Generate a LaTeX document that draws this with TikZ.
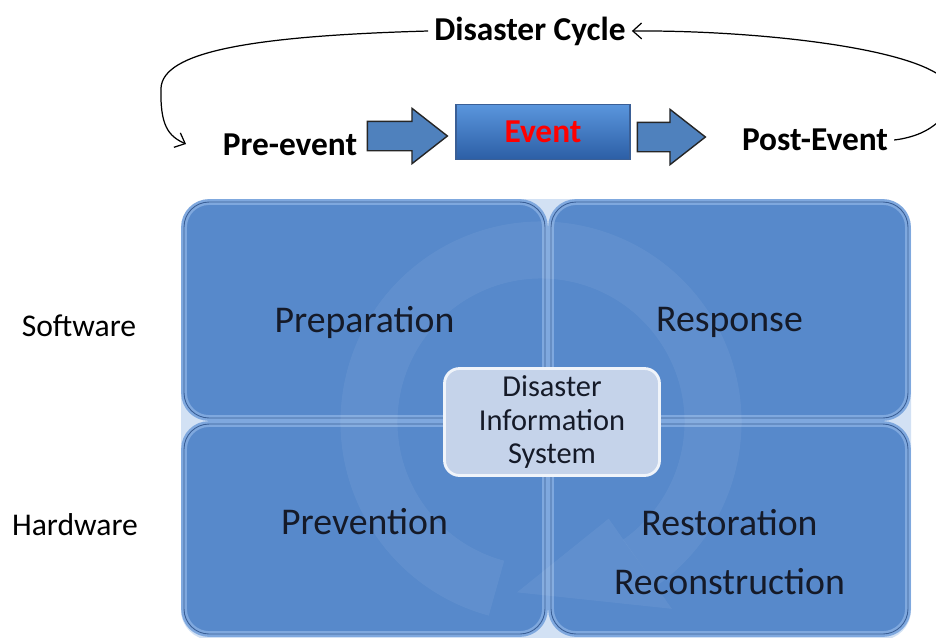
\documentclass[tikz,border=0pt]{standalone}
\usepackage{fontspec}
\setmainfont{Carlito}
\usetikzlibrary{positioning,calc,shapes.arrows,arrows.meta}

\definecolor{panelblue}{HTML}{5789CB}
\definecolor{panelrim}{HTML}{7FA8DE}
\definecolor{paneldark}{HTML}{3A5F96}
\definecolor{arrowblue}{HTML}{4F81BD}
\definecolor{eventtop}{HTML}{5A95DC}
\definecolor{eventbot}{HTML}{2C5EA6}
\definecolor{disfill}{HTML}{C5D3EA}
\definecolor{textdark}{HTML}{151A28}

\tikzset{
  quad/.style={draw=panelrim, double=paneldark, double distance=0.5pt, line width=1.4pt,
    fill=panelblue, rounded corners=0.5cm},
  phase/.style={font=\fontsize{19}{21}\selectfont\bfseries},
  side/.style={font=\fontsize{18}{20}\selectfont},
  qlabel/.style={font=\fontsize{21.5}{24}\selectfont, text=textdark},
  blockarrow/.style={single arrow, draw=black!85, fill=arrowblue, line width=0.8pt,
    inner xsep=0pt, inner ysep=0.28cm, single arrow head extend=0.26cm,
    single arrow tip angle=76, minimum height=1.6cm},
}

\begin{document}
\begin{tikzpicture}[x=0.02cm, y=-0.02cm]
  \useasboundingbox (0,0) rectangle (936,637);
  \clip (0,0) rectangle (936,637);

  % cycle
  \node[phase] (cycle) at (530,31) {Disaster Cycle};
  \node[phase] (pre) at (290,145) {Pre-event};
  \node[phase] (post) at (815,140) {Post-Event};
  \node[font=\fontsize{19}{21}\selectfont\bfseries, text=red, minimum width=3.48cm,
        minimum height=1.1cm, draw=paneldark, line width=0.6pt,
        top color=eventtop, bottom color=eventbot] (event) at (543,132) {Event};
  \node[blockarrow] (arr1) at (398,136) {};
  \node[blockarrow, minimum height=1.36cm] (arr2) at (662,137) {};

  \draw[line width=0.7pt, -{Straight Barb[length=5pt,width=9pt]}]
    (cycle.west) .. controls (250,36) and (163,52) .. (161,88)
    .. controls (160,125) and (168,136) .. (186,144);
  \draw[line width=0.7pt, -{Straight Barb[length=5pt,width=9pt]}]
    (post.east) .. controls (935,135) and (952,112) .. (952,92)
    .. controls (948,50) and (760,30) .. (cycle.east);

  % panel
  \fill[panelrim!35!white, rounded corners=0.6cm] (181,199) rectangle (911,640);
  \node[quad, minimum width=7.22cm, minimum height=4.32cm] (prep) at (364.5,310) {};
  \node[quad, minimum width=7.14cm, minimum height=4.32cm] (resp) at (729.5,310) {};
  \node[quad, minimum width=7.22cm, minimum height=4.2cm] (prev) at (364.5,529) {};
  \node[quad, minimum width=7.14cm, minimum height=4.2cm] (rest) at (729.5,529) {};

  % faint cycle ring
  \draw[white, opacity=0.06, line width=1.14cm] (541,422) ++(105:172) arc (105:415:172);
  \fill[white, opacity=0.06] (541,422) ++(55:118) -- ($(541,422)+(55:228)$)
    -- ($(541,422)+(98:172)$) -- cycle;

  \node[qlabel] at (prep.center) [yshift=-0.24cm] {Preparation};
  \node[qlabel] at (resp.center) [yshift=-0.24cm] {Response};
  \node[qlabel] at (prev.center) [yshift=0.14cm] {Prevention};
  \node[qlabel, align=center] at (rest.center) [yshift=-0.46cm]
    {Restoration\\[0.35cm]Reconstruction};

  \node[draw=white!75!disfill, line width=1.6pt, fill=disfill, rounded corners=0.3cm,
        minimum width=4.3cm, minimum height=2.14cm, align=center,
        font=\fontsize{17.3}{19}\selectfont, text=textdark] (dis) at (552,422)
    {Disaster\\Information\\System};

  \node[side] (soft) at (79,326) {Software};
  \node[side] (hard) at (75,525) {Hardware};
\end{tikzpicture}
\end{document}
